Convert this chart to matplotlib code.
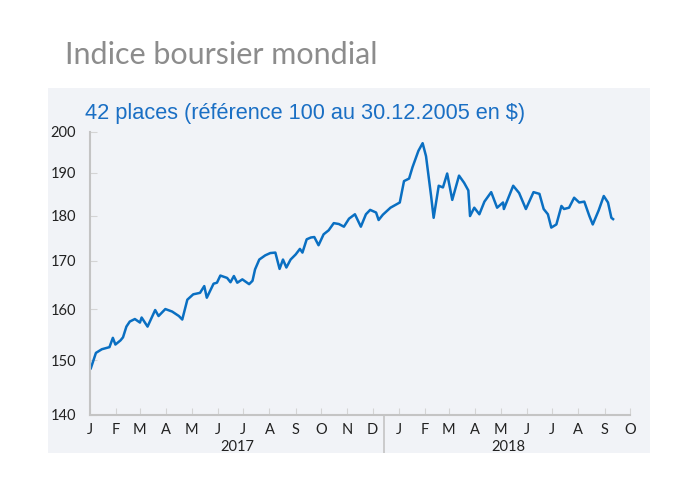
import matplotlib
matplotlib.use("Agg")
import matplotlib.pyplot as plt
import matplotlib.dates as mdates
import numpy as np
import pandas as pd

# Values (approx. weekly)
dates = ["2017-01-02", "2017-01-08", "2017-01-15", "2017-01-24", "2017-01-28", "2017-01-31",
         "2017-02-06", "2017-02-09", "2017-02-13", "2017-02-17", "2017-02-23", "2017-03-01",
         "2017-03-03", "2017-03-10", "2017-03-19", "2017-03-23", "2017-03-31", "2017-04-08",
         "2017-04-16", "2017-04-20", "2017-04-26", "2017-05-03", "2017-05-11", "2017-05-16",
         "2017-05-19", "2017-05-27", "2017-05-31", "2017-06-04", "2017-06-12", "2017-06-16",
         "2017-06-20", "2017-06-24", "2017-06-30", "2017-07-08", "2017-07-12", "2017-07-15",
         "2017-07-20", "2017-07-27", "2017-08-02", "2017-08-08", "2017-08-13", "2017-08-17",
         "2017-08-21", "2017-08-26", "2017-09-01", "2017-09-06", "2017-09-09", "2017-09-14",
         "2017-09-19", "2017-09-23", "2017-09-28", "2017-10-04", "2017-10-10", "2017-10-16",
         "2017-10-22", "2017-10-28", "2017-11-03", "2017-11-10", "2017-11-17", "2017-11-23",
         "2017-11-28", "2017-12-05", "2017-12-08", "2017-12-13", "2017-12-22", "2018-01-02",
         "2018-01-07", "2018-01-13", "2018-01-17", "2018-01-24", "2018-01-29", "2018-02-02",
         "2018-02-08", "2018-02-11", "2018-02-17", "2018-02-22", "2018-02-27", "2018-03-05",
         "2018-03-13", "2018-03-19", "2018-03-24", "2018-03-26", "2018-03-31", "2018-04-06",
         "2018-04-12", "2018-04-20", "2018-04-27", "2018-05-04", "2018-05-05", "2018-05-16",
         "2018-05-23", "2018-05-31", "2018-06-09", "2018-06-16", "2018-06-21", "2018-06-26",
         "2018-06-30", "2018-07-06", "2018-07-12", "2018-07-15", "2018-07-21", "2018-07-27",
         "2018-08-02", "2018-08-08", "2018-08-14", "2018-08-18", "2018-08-25", "2018-08-31",
         "2018-09-05", "2018-09-09", "2018-09-11"]
values = [148.5, 151.4, 152.1, 152.5, 154.3, 153.0,
          153.8, 154.4, 156.5, 157.5, 158.0, 157.3,
          158.3, 156.5, 159.8, 158.6, 160.0, 159.5,
          158.6, 157.9, 161.9, 163.0, 163.3, 164.7,
          162.3, 165.2, 165.4, 166.9, 166.4, 165.5,
          166.8, 165.4, 166.1, 165.1, 165.8, 168.2,
          170.3, 171.2, 171.7, 171.8, 168.3, 170.3,
          168.6, 170.3, 171.4, 172.6, 171.8, 174.7,
          175.1, 175.2, 173.4, 175.8, 176.7, 178.3,
          178.1, 177.5, 179.3, 180.3, 177.5, 180.3,
          181.3, 180.7, 179.0, 180.2, 181.8, 183.0,
          188.0, 188.6, 191.3, 195.3, 197.2, 194.0,
          184.5, 179.5, 186.9, 186.5, 189.8, 183.6,
          189.3, 187.6, 185.8, 179.9, 181.8, 180.3,
          183.2, 185.4, 181.8, 183.0, 181.5, 186.9,
          185.2, 181.5, 185.4, 185.0, 181.5, 180.3,
          177.3, 178.0, 182.2, 181.5, 181.8, 184.1,
          183.0, 183.2, 179.9, 178.0, 181.2, 184.5,
          183.0, 179.5, 179.2]
y_ticks = [140, 150, 160, 170, 180, 190, 200]
month_labels = ["J", "F", "M", "A", "M", "J", "J", "A", "S", "O", "N", "D",
                "J", "F", "M", "A", "M", "J", "J", "A", "S", "O"]
years = ["2017", "2018"]

x = pd.to_datetime(dates)

fig = plt.figure(figsize=(6.95, 4.83), dpi=100)
fig.patch.set_facecolor("white")

# light panel behind the chart
bg = fig.add_axes([48 / 695, 1 - 453 / 483, 602 / 695, 365 / 483], zorder=-1)
bg.set_facecolor("#f1f3f7")
bg.set_xticks([])
bg.set_yticks([])
for s in bg.spines.values():
    s.set_visible(False)
bg.plot([336 / 602, 336 / 602], [0, 38 / 365], color="#c4c4c4", lw=1.2)
bg.set_xlim(0, 1)
bg.set_ylim(0, 1)

fig.text(65 / 695, 1 - 55 / 483, "Indice boursier mondial", fontsize=22,
         family="Lato", color="#8c8c8c", va="center")
fig.text(85 / 695, 1 - 114 / 483, "42 places (référence 100 au 30.12.2005 en $)",
         fontsize=15.7, family="Liberation Sans", color="#1a6fc4", va="center")

ax = fig.add_axes([90 / 695, 1 - 415 / 483, 540 / 695, 283 / 483])
ax.set_facecolor("none")
ax.plot(x, values, color="#0a6fc2", lw=1.8)

ax.set_yscale("log")
ax.set_ylim(140, 200)
ax.set_yticks(y_ticks)
ax.set_yticklabels([str(v) for v in y_ticks])
ax.yaxis.set_minor_locator(matplotlib.ticker.NullLocator())

month_starts = pd.date_range("2017-01-01", "2018-10-01", freq="MS")
ax.set_xlim(month_starts[0], month_starts[-1])
ax.set_xticks(month_starts)
ax.set_xticklabels(month_labels)

for s in ["top", "right"]:
    ax.spines[s].set_visible(False)
for s in ["left", "bottom"]:
    ax.spines[s].set_color("#c4c4c4")
    ax.spines[s].set_linewidth(1.5)
ax.tick_params(axis="both", direction="in", length=5, color="#d4d4d4",
               labelsize=10.5, labelcolor="#222222")
ax.tick_params(axis="x", pad=6)
ax.tick_params(axis="y", pad=10)
for lab in ax.get_xticklabels() + ax.get_yticklabels():
    lab.set_family("Lato")

# year labels
fig.text(237 / 695, 1 - 447 / 483, years[0], fontsize=10.5, family="Lato",
         color="#222222", ha="center", va="center")
fig.text(508 / 695, 1 - 447 / 483, years[1], fontsize=10.5, family="Lato",
         color="#222222", ha="center", va="center")

fig.savefig("out.png", dpi=100)
